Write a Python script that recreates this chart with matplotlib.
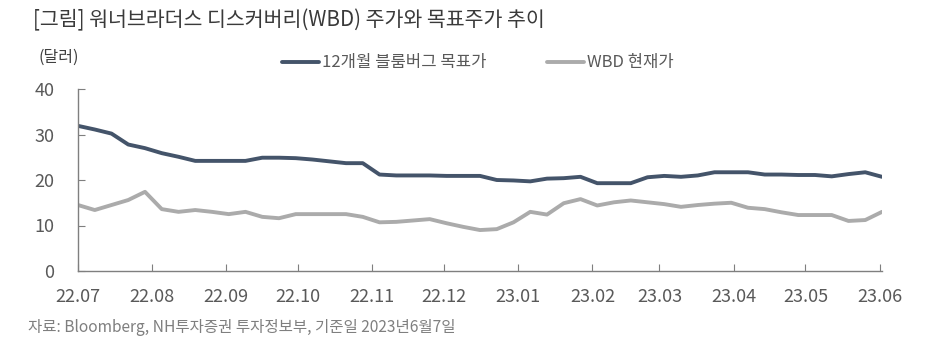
import matplotlib
matplotlib.use("Agg")
import matplotlib.pyplot as plt
import matplotlib.dates as mdates
import pandas as pd

plt.rcParams["font.family"] = ["Noto Sans CJK KR", "DejaVu Sans"]

# weekly closes, 2022-07-01 .. 2023-06-02
dates = pd.date_range("2022-07-01", periods=49, freq="7D")

target_price = [
    31.9, 31.1, 30.2, 27.8, 27.0, 25.9, 25.1, 24.2, 24.2, 24.2,
    24.2, 24.9, 24.9, 24.8, 24.5, 24.1, 23.7, 23.7, 21.2, 21.0,
    21.0, 21.0, 20.9, 20.9, 20.9, 20.0, 19.9, 19.7, 20.3, 20.4,
    20.7, 19.3, 19.3, 19.3, 20.6, 20.9, 20.7, 21.0, 21.7, 21.7,
    21.7, 21.2, 21.2, 21.1, 21.1, 20.8, 21.3, 21.7, 20.7,
]
wbd_price = [
    14.5, 13.4, 14.5, 15.6, 17.4, 13.6, 13.0, 13.4, 13.0, 12.5,
    13.0, 11.9, 11.6, 12.5, 12.5, 12.5, 12.5, 11.9, 10.7, 10.8,
    11.1, 11.4, 10.5, 9.7, 9.0, 9.2, 10.7, 13.0, 12.4, 14.9,
    15.8, 14.4, 15.1, 15.5, 15.1, 14.7, 14.1, 14.5, 14.8, 15.0,
    13.9, 13.6, 12.9, 12.3, 12.3, 12.3, 11.0, 11.2, 13.0,
]

series_labels = ["12개월 블룸버그 목표가", "WBD 현재가"]
y_ticks = [0, 10, 20, 30, 40]

title = "[그림] 워너브라더스 디스커버리(WBD) 주가와 목표주가 추이"
unit = "(달러)"
source = "자료: Bloomberg, NH투자증권 투자정보부, 기준일 2023년6월7일"

DARK = "#44546A"
GRAY = "#ABABAB"
TXT = "#595959"

fig = plt.figure(figsize=(9.31, 3.47), dpi=100)
ax = fig.add_axes([78 / 931, 1 - 271 / 347, 804 / 931, 182 / 347])

ax.plot(dates, target_price, color=DARK, lw=2.8, solid_capstyle="round",
        solid_joinstyle="round", label=series_labels[0])
ax.plot(dates, wbd_price, color=GRAY, lw=2.8, solid_capstyle="round",
        solid_joinstyle="round", label=series_labels[1])

ax.set_xlim(dates[0], dates[-1])
ax.set_ylim(0, 40)
ax.set_yticks(y_ticks)
ax.xaxis.set_major_locator(mdates.MonthLocator())
ax.xaxis.set_major_formatter(mdates.DateFormatter("%y.%m"))

for s in ["top", "right"]:
    ax.spines[s].set_visible(False)
for s in ["left", "bottom"]:
    ax.spines[s].set_color("#7F7F7F")
    ax.spines[s].set_linewidth(1.0)

ax.tick_params(axis="y", direction="in", length=5, color="#7F7F7F",
               labelsize=13, labelcolor=TXT, pad=17)
ax.tick_params(axis="x", direction="in", length=5, color="#7F7F7F",
               labelsize=13, labelcolor=TXT, pad=12)

fig.text(33 / 931, 1 - 20 / 347, title, fontsize=14.8, color="#3A3A3A",
         fontweight="medium", va="center", ha="left")
fig.text(38 / 931, 1 - 57 / 347, unit, fontsize=11.5, color="#404040",
         va="center", ha="left")
fig.text(28 / 931, 1 - 328 / 347, source, fontsize=11.2, color="#7F7F7F",
         va="center", ha="left")

fig.legend(loc="center", bbox_to_anchor=(478 / 931, 1 - 63 / 347), ncol=2,
           frameon=False, fontsize=12, handlelength=2.2, handletextpad=0.2,
           columnspacing=3.6, labelcolor=TXT)

fig.savefig("out.png", dpi=100)
plt.close(fig)
